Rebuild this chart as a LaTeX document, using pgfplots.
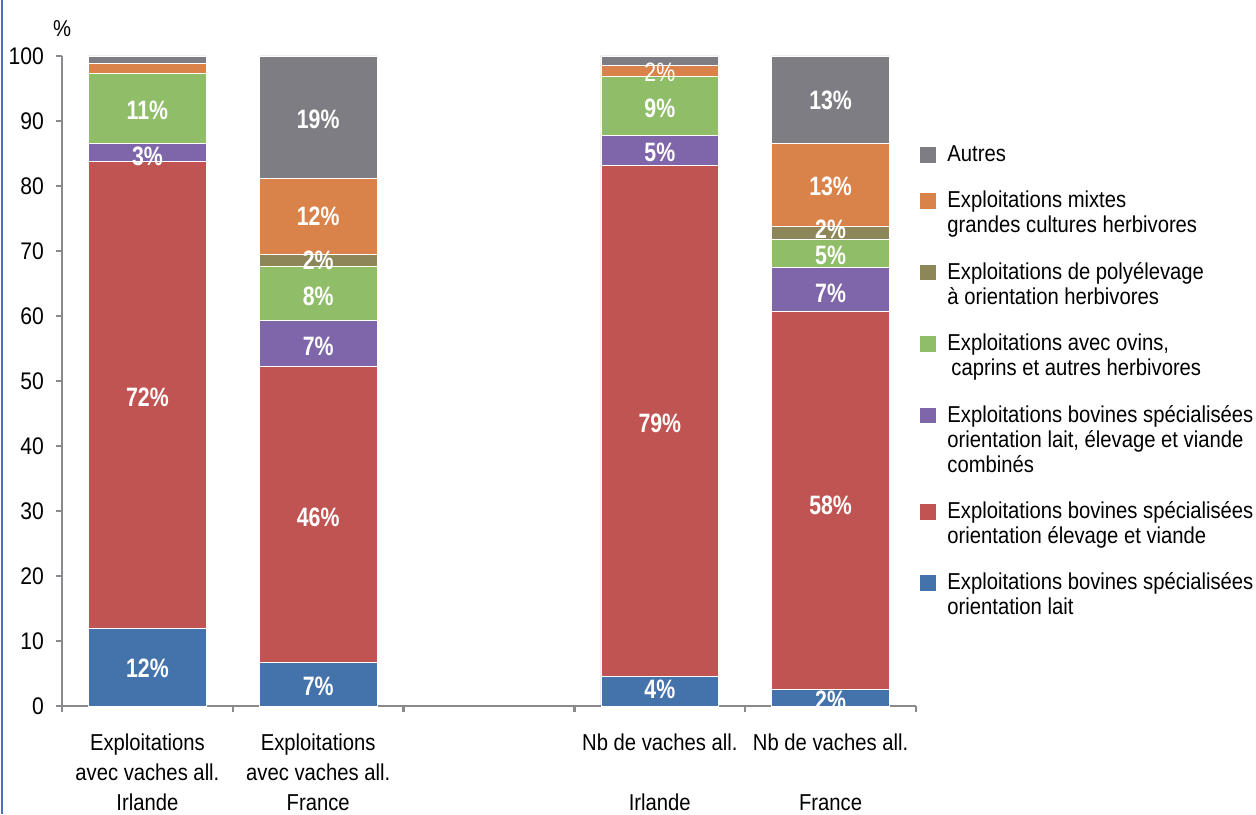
\documentclass[border=0pt]{standalone}
\usepackage{fontspec}
\setmainfont{Liberation Sans}[FakeStretch=0.88]
\newfontfamily\lblfont{Liberation Sans}[FakeStretch=0.8]
\usepackage{pgfplots}
\pgfplotsset{compat=1.18}
\definecolor{clait}{HTML}{4472AA}
\definecolor{celev}{HTML}{BF5452}
\definecolor{cmixte}{HTML}{7F66AA}
\definecolor{covins}{HTML}{8FBD68}
\definecolor{cpoly}{HTML}{8C8659}
\definecolor{cgc}{HTML}{D9824A}
\definecolor{cautres}{HTML}{7E7D83}
\definecolor{axgray}{HTML}{8A8A8E}
\definecolor{frameblue}{HTML}{4A6FC0}
\tikzset{lbl/.style={text=white, font=\lblfont\fontsize{13.3}{15}\selectfont\bfseries, inner sep=0pt},
         lbln/.style={text=white, font=\lblfont\fontsize{13.3}{15}\selectfont, inner sep=0pt}}
\begin{document}
\begin{tikzpicture}
\begin{axis}[
  at={(0,0)}, anchor=south west,
  scale only axis, width=427pt, height=325pt,
  xmin=0, xmax=5, ymin=0, ymax=100,
  ybar stacked, bar width=0.69,
  reverse stacked plots=false,
  axis lines*=left,
  axis line style={draw=axgray, line width=1.2pt},
  tick style={draw=axgray, line width=1.2pt},
  tick align=outside,
  major tick length=3pt,
  ytick={0,10,...,100},
  /pgf/number format/assume math mode=true,
  yticklabel style={font=\fontsize{12}{14}\selectfont, xshift=-2.5pt},
  xtick={0,1,2,3,4,5},
  x tick label as interval,
  xticklabels={{Exploitations\\avec vaches all.\\Irlande},{Exploitations\\avec vaches all.\\France},{},{Nb de vaches all.\\\mbox{}\\Irlande},{Nb de vaches all.\\\mbox{}\\France}},
  xticklabel style={align=center, font=\fontsize{11.5}{15}\selectfont, yshift=-7.5pt},
  ylabel={\%},
  every axis y label/.style={at={(axis description cs:0,1)}, anchor=base, yshift=9.5pt, font=\fontsize{11.5}{13}\selectfont},
  every axis plot/.append style={draw=white, line width=0.3pt},
  reverse legend,
  legend cell align=left,
  legend style={at={(axis description cs:1.0047,0.866)}, anchor=north west, draw=none, fill=none, inner sep=0pt,
    row sep=12.75pt, column sep=5.5pt, font=\fontsize{11.5}{12.5}\selectfont,
    nodes={inner sep=0pt}, cells={anchor=north west, align=left}},
  legend image code/.code={\fill[#1,draw=none] (0pt,-9.55pt) rectangle (8pt,-1.75pt);},
]
\addplot[fill=clait] coordinates {(0.5,12.0) (1.5,6.8) (3.5,4.5) (4.5,2.5)};
\addlegendentry{\strut Exploitations bovines spécialisées\\orientation lait\strut}
\addplot[fill=celev] coordinates {(0.5,71.8) (1.5,45.5) (3.5,78.7) (4.5,58.3)};
\addlegendentry{\strut Exploitations bovines spécialisées\\orientation élevage et viande\strut}
\addplot[fill=cmixte] coordinates {(0.5,2.8) (1.5,7.1) (3.5,4.6) (4.5,6.7)};
\addlegendentry{\strut Exploitations bovines spécialisées\\orientation lait, élevage et viande\\combinés\strut}
\addplot[fill=covins] coordinates {(0.5,10.8) (1.5,8.3) (3.5,9.0) (4.5,4.3)};
\addlegendentry{\strut Exploitations avec ovins,\\\hspace{2pt}caprins et autres herbivores\strut}
\addplot[fill=cpoly] coordinates {(0.5,0) (1.5,1.8) (3.5,0) (4.5,2.0)};
\addlegendentry{\strut Exploitations de polyélevage\\à orientation herbivores\strut}
\addplot[fill=cgc] coordinates {(0.5,1.5) (1.5,11.7) (3.5,1.8) (4.5,12.8)};
\addlegendentry{\strut Exploitations mixtes\\grandes cultures herbivores\strut}
\addplot[fill=cautres] coordinates {(0.5,1.1) (1.5,18.8) (3.5,1.4) (4.5,13.4)};
\addlegendentry{\strut Autres\strut}

\node[lbl] at (axis cs:0.5,5.8) {12\%};
\node[lbl] at (axis cs:0.5,47.5) {72\%};
\node[lbl] at (axis cs:0.5,84.6) {3\%};
\node[lbl] at (axis cs:0.5,91.7) {11\%};
\node[lbl] at (axis cs:1.5,3.1) {7\%};
\node[lbl] at (axis cs:1.5,29.1) {46\%};
\node[lbl] at (axis cs:1.5,55.4) {7\%};
\node[lbl] at (axis cs:1.5,63.1) {8\%};
\node[lbl] at (axis cs:1.5,68.5) {2\%};
\node[lbl] at (axis cs:1.5,75.4) {12\%};
\node[lbl] at (axis cs:1.5,90.2) {19\%};
\node[lbl] at (axis cs:3.5,2.5) {4\%};
\node[lbl] at (axis cs:3.5,43.5) {79\%};
\node[lbl] at (axis cs:3.5,85.2) {5\%};
\node[lbl] at (axis cs:3.5,92.0) {9\%};
\node[lbln] at (axis cs:3.5,97.5) {2\%};
\node[lbl] at (axis cs:4.5,0.9) {2\%};
\node[lbl] at (axis cs:4.5,30.9) {58\%};
\node[lbl] at (axis cs:4.5,63.5) {7\%};
\node[lbl] at (axis cs:4.5,69.3) {5\%};
\node[lbl] at (axis cs:4.5,73.4) {2\%};
\node[lbl] at (axis cs:4.5,80.0) {13\%};
\node[lbl] at (axis cs:4.5,93.1) {13\%};
\end{axis}
\draw[frameblue, line width=0.6pt] (-30pt,-54pt) -- (-30pt,353pt);
\pgfresetboundingbox
\path[use as bounding box] (-31pt,-54pt) rectangle (597pt,353pt);
\end{tikzpicture}
\end{document}
